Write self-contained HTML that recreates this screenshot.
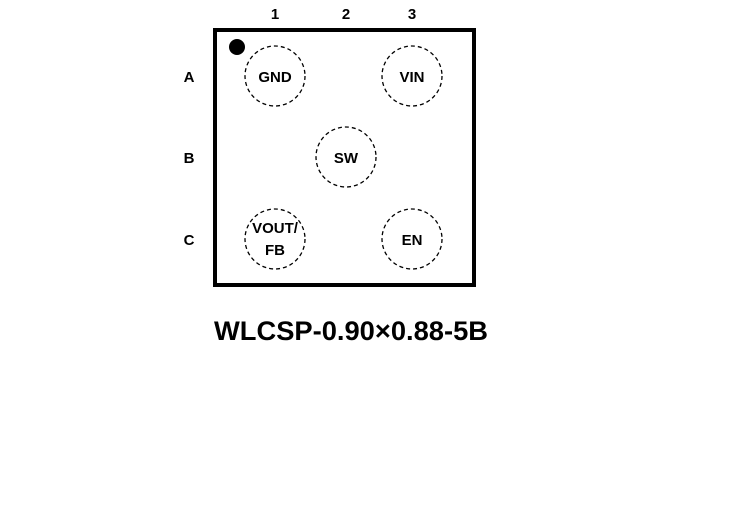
<!DOCTYPE html>
<html><head><style>
html,body{margin:0;padding:0;background:#fff;}
svg{display:block;}
text{font-family:"Liberation Sans",Arial,sans-serif;font-weight:bold;fill:#000;}
</style></head><body>
<svg width="734" height="519" viewBox="0 0 734 519">
<rect x="215" y="30" width="259" height="255" fill="#fff" stroke="#000" stroke-width="4"/>
<circle cx="237" cy="47" r="8" fill="#000"/>
<g fill="none" stroke="#000" stroke-width="1.3" stroke-dasharray="4,3">
<circle cx="275" cy="76" r="30"/>
<circle cx="412" cy="76" r="30"/>
<circle cx="346" cy="157" r="30"/>
<circle cx="275" cy="239" r="30"/>
<circle cx="412" cy="239" r="30"/>
</g>
<g font-size="15" text-anchor="middle">
<text x="275" y="19">1</text>
<text x="346" y="19">2</text>
<text x="412" y="19">3</text>
<text x="189" y="82">A</text>
<text x="189" y="163">B</text>
<text x="189" y="245">C</text>
<text x="275" y="82">GND</text>
<text x="412" y="82">VIN</text>
<text x="346" y="163">SW</text>
<text x="412" y="245">EN</text>
<text x="275" y="233">VOUT/</text>
<text x="275" y="255">FB</text>
</g>
<text x="214" y="340" font-size="27" textLength="274" lengthAdjust="spacingAndGlyphs">WLCSP-0.90×0.88-5B</text>
</svg>
</body></html>
